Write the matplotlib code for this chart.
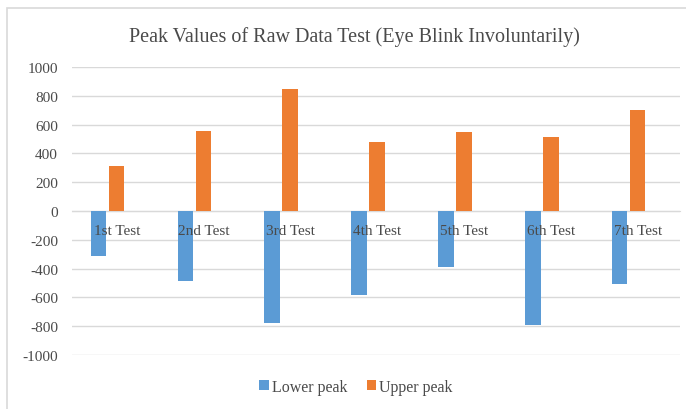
import matplotlib
matplotlib.use("Agg")
import matplotlib.pyplot as plt
from matplotlib.patches import Rectangle
import numpy as np

categories = ["1st Test", "2nd Test", "3rd Test", "4th Test", "5th Test", "6th Test", "7th Test"]
lower_peak = [-315, -485, -780, -580, -390, -790, -505]
upper_peak = [315, 555, 850, 480, 550, 515, 700]
yticks = [-1000, -800, -600, -400, -200, 0, 200, 400, 600, 800, 1000]

plt.rcParams['font.family'] = ['Liberation Serif', 'DejaVu Serif']
txt = '#4a4a4a'

fig = plt.figure(figsize=(6.86, 4.10), dpi=100)
fig.patch.set_facecolor('white')
# outer chart border
fig.add_artist(Rectangle((7/686, -0.05), 1.0, 1 - 9/410 + 0.05, transform=fig.transFigure,
                         fill=False, edgecolor='#d9d9d9', linewidth=1.2))

ax = fig.add_axes([72/686, 1 - 356/410, (680 - 72)/686, (356 - 68)/410])
x = np.arange(len(categories))
w = 0.18
ax.bar(x - 0.195, lower_peak, width=w, color='#5B9BD5', label='Lower peak', zorder=2)
ax.bar(x + 0.012, upper_peak, width=w, color='#ED7D31', label='Upper peak', zorder=2)

ax.set_xlim(-0.5, len(categories) - 0.5)
ax.set_ylim(-1000, 1000)
ax.set_yticks(yticks)
ax.set_yticklabels([str(v) for v in yticks])
ax.yaxis.grid(True, color='#d9d9d9', linewidth=1.0)
ax.set_axisbelow(True)
for s in ['top', 'right', 'left']:
    ax.spines[s].set_visible(False)
ax.spines['bottom'].set_position(('data', 0))
ax.spines['bottom'].set_color('#d9d9d9')
ax.spines['bottom'].set_zorder(1)
ax.set_xticks(x)
ax.set_xticklabels([])
ax.tick_params(axis='x', length=0)
ax.tick_params(axis='y', length=0, pad=10, labelsize=11, labelcolor=txt)
for i, c in enumerate(categories):
    ax.annotate(c, xy=(i, 0), xytext=(1, -14), textcoords='offset points',
                ha='center', va='center', fontsize=11, color=txt, zorder=5)

fig.text(354/686, 1 - 37/410, "Peak Values of Raw Data Test (Eye Blink Involuntarily)",
         ha='center', va='center', fontsize=14.5, color=txt)

leg = fig.legend(loc='center', bbox_to_anchor=(356/686, 1 - 388/410), ncol=2, frameon=False,
                 fontsize=11.5, handlelength=0.6, handleheight=0.6, handletextpad=0.2,
                 columnspacing=1.2, labelcolor=txt)

fig.savefig("out.png", dpi=100)
